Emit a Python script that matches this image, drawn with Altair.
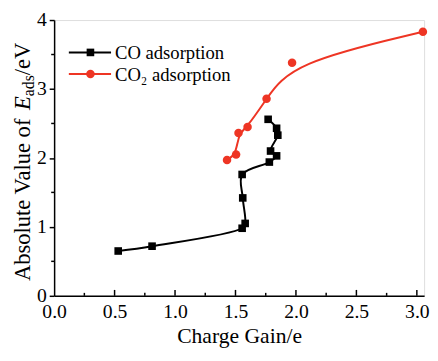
import altair as alt
import pandas as pd

# CO adsorption (black squares), in drawing order
co_x = [0.53, 0.81, 1.555, 1.58, 1.56, 1.555, 1.78, 1.84, 1.79, 1.85, 1.84, 1.77]
co_y = [0.65, 0.72, 0.98, 1.05, 1.42, 1.76, 1.94, 2.03, 2.10, 2.33, 2.43, 2.56]

# CO2 adsorption (red circles)
co2_x = [1.43, 1.505, 1.525, 1.60, 1.757, 1.968, 3.05]
co2_y = [1.97, 2.05, 2.36, 2.45, 2.86, 3.38, 3.83]

x_major = [0.5, 1.0, 1.5, 2.0, 2.5, 3.0]
x_minor = [0.25, 0.75, 1.25, 1.75, 2.25, 2.75]
y_minor = [0.5, 1.5, 2.5, 3.5]
x_labels = [0.0, 0.5, 1.0, 1.5, 2.0, 2.5, 3.0]
y_labels = [0, 1, 2, 3, 4]

series_names = ["CO adsorption", "CO₂ adsorption"]

BLACK = "#000000"
RED = "#ee3524"
FONT = "Liberation Serif"

co = pd.DataFrame({"x": co_x, "y": co_y, "i": range(len(co_x))})
co2 = pd.DataFrame({"x": co2_x, "y": co2_y, "i": range(len(co2_x))})

xs = alt.Scale(domain=[0, 3.06], nice=False, zero=False)
ys = alt.Scale(domain=[0, 4], nice=False, zero=False)

X = alt.X("x:Q", scale=xs,
          axis=alt.Axis(values=x_labels, format=".1f", ticks=False, grid=False,
                        labelFlush=False,
                        title="Charge Gain/e", labelFontSize=20, titleFontSize=22,
                        labelFont=FONT, titleFont=FONT, titleFontWeight="normal",
                        labelColor=BLACK, titleColor=BLACK, labelPadding=6,
                        titlePadding=5, domainColor=BLACK, domainWidth=1.5))
Y = alt.Y("y:Q", scale=ys,
          axis=alt.Axis(values=y_labels, format="d", tickSize=5, tickWidth=1.5,
                        tickColor=BLACK, grid=False, title=None, labelFlushOffset=2,
                        labelFontSize=20, labelFont=FONT, labelColor=BLACK,
                        labelPadding=3, domainColor=BLACK, domainWidth=1.5))

co_line = alt.Chart(co).mark_line(color=BLACK, strokeWidth=2, interpolate="catmull-rom").encode(
    x=X, y=Y, order="i:O")
co_pts = alt.Chart(co).mark_point(shape="square", filled=True, color=BLACK, size=60, opacity=1).encode(
    x="x:Q", y="y:Q")
co2_line = alt.Chart(co2).mark_line(color=RED, strokeWidth=2, interpolate="basis").encode(
    x="x:Q", y="y:Q", order="i:O")
co2_pts = alt.Chart(co2).mark_point(shape="circle", filled=True, color=RED, size=75, opacity=1).encode(
    x="x:Q", y="y:Q")

xmaj = alt.Chart(pd.DataFrame({"t": x_major})).mark_rule(color=BLACK, strokeWidth=1.5).encode(
    x=alt.X("t:Q", scale=xs), y=alt.value(281), y2=alt.value(275))
xmin = alt.Chart(pd.DataFrame({"t": x_minor})).mark_rule(color=BLACK, strokeWidth=1.5).encode(
    x=alt.X("t:Q", scale=xs), y=alt.value(281), y2=alt.value(278))
ymin = alt.Chart(pd.DataFrame({"t": y_minor})).mark_rule(color=BLACK, strokeWidth=1.5).encode(
    y=alt.Y("t:Q", scale=ys), x=alt.value(-3), x2=alt.value(0))

# legend
one = alt.Data(values=[{}])
leg = []
for k, (name, col, shp, sz) in enumerate([(series_names[0], BLACK, "square", 60),
                                          (series_names[1], RED, "circle", 75)]):
    yy = 33 + 22 * k
    leg.append(alt.Chart(one).mark_rule(color=col, strokeWidth=2).encode(
        x=alt.value(15), x2=alt.value(58), y=alt.value(yy)))
    leg.append(alt.Chart(one).mark_point(shape=shp, filled=True, color=col, size=sz, opacity=1).encode(
        x=alt.value(37), y=alt.value(yy)))
    leg.append(alt.Chart(one).mark_text(align="left", baseline="middle", font=FONT, fontSize=19,
                                        color=BLACK).encode(
        x=alt.value(62), y=alt.value(yy + 1), text=alt.value(name)))

# y title in pieces: "Absolute Value of " + italic E + subscript "ads" + "/eV"
y0 = 266
w1 = 7582 * 0.023
wE = 611 * 0.023
wads = 1333 * 0.016
title_parts = [
    ("Absolute Value of ", -25, y0, 23, "normal"),
    ("E", -25, y0 - w1, 23, "italic"),
    ("ads", -20, y0 - w1 - wE, 16, "normal"),
    ("/eV", -25, y0 - w1 - wE - wads, 23, "normal"),
]
for txt, xx, yy, fs, st in title_parts:
    leg.append(alt.Chart(one).mark_text(align="left", baseline="alphabetic", angle=270, font=FONT,
                                        fontSize=fs, fontStyle=st, color=BLACK).encode(
        x=alt.value(xx), y=alt.value(yy), text=alt.value(txt)))

chart = alt.layer(co_line, co_pts, co2_line, co2_pts, xmaj, xmin, ymin, *leg).properties(
    width=377, height=281,
    autosize=alt.AutoSizeParams(type="none"),
    padding={"left": 47, "top": 9, "right": 6, "bottom": 55},
).configure_view(stroke=BLACK, strokeWidth=1.5).configure(background="white")

chart.save("out.html", embed_options={"renderer": "svg", "actions": False})
